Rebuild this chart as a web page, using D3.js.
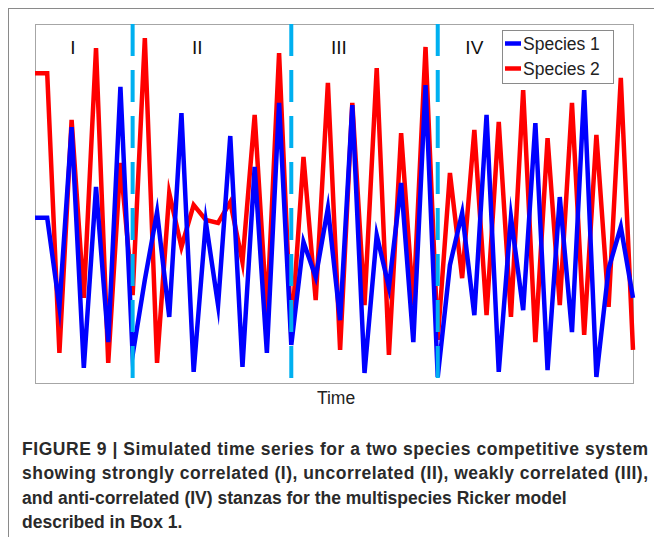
<!DOCTYPE html>
<html>
<head>
<meta charset="utf-8">
<script src="https://cdn.jsdelivr.net/npm/d3@7"></script>
<style>
  body { margin: 0; background: #fff; }
  svg { display: block; }
</style>
</head>
<body>
<div id="chart"></div>
<script>
'use strict';

// time steps 1..50
var steps = d3.range(1, 51);

// abundance (arbitrary units)
var species1 = [46.0, 46.0, 21.2, 71.3, 4.2, 54.6, 11.4, 82.5, 7.8, 28.7,
                47.6, 18.4, 75.2, 3.1, 44.8, 21.7, 68.8, 4.5, 60.2, 8.4,
                78.0, 10.6, 39.3, 29.5, 48.7, 17.5, 77.4, 2.8, 41.2, 26.7,
                55.7, 11.4, 83.0, 1.7, 32.9, 47.4, 18.9, 74.7, 3.1, 46.2,
                20.3, 72.4, 3.6, 51.8, 14.2, 81.6, 1.7, 31.8, 43.5, 23.7];

var species2 = [86.3, 86.3, 8.4, 73.3, 23.7, 93.3, 5.6, 61.3, 24.5, 96.1,
                5.6, 52.9, 37.9, 49.6, 45.4, 44.6, 50.4, 33.7, 74.7, 19.2,
                91.9, 13.4, 63.0, 23.1, 83.6, 9.2, 78.0, 21.7, 87.7, 7.8,
                69.6, 21.7, 93.6, 12.0, 58.5, 29.2, 70.5, 18.9, 72.7, 18.4,
                81.6, 11.4, 68.2, 21.7, 78.0, 13.4, 69.1, 21.2, 85.0, 9.2];

// stanza breaks (time step) and stanza labels
var stanzaBreaks = [9, 22, 34];
var stanzaLabels = ['I', 'II', 'III', 'IV'];
var stanzaLabelAt = [4.1, 14.3, 25.9, 37.0];

var seriesNames = ['Species 1', 'Species 2'];

var captionLines = [
    'FIGURE 9 | Simulated time series for a two species competitive system',
    'showing strongly correlated (I), uncorrelated (II), weakly correlated (III),',
    'and anti-correlated (IV) stanzas for the multispecies Ricker model',
    'described in Box 1.'
];
// full-width lines are justified to the text block
var captionWidths = [626, 626, null, null];


var myChart = {};

myChart.largura = 654;
myChart.altura = 537;
myChart.box = { left: 35, top: 24, right: 633, bottom: 383 };

myChart.run = function()
{
    var box = myChart.box;
    var svg = d3.select('#chart').append('svg')
        .attr('width', myChart.largura)
        .attr('height', myChart.altura);

    // outer figure frame
    svg.append('rect')
        .attr('x', 8.5).attr('y', 8.5)
        .attr('width', 800).attr('height', 800)
        .attr('fill', 'none')
        .attr('stroke', '#8a8a8a')
        .attr('stroke-width', 1);

    var xScale = d3.scaleLinear().domain([1, 50]).range([box.left, box.right]);
    var yScale = d3.scaleLinear().domain([0, 100]).range([box.bottom, box.top]);

    // plot frame
    svg.append('rect')
        .attr('x', box.left + 0.5).attr('y', box.top + 0.5)
        .attr('width', box.right - box.left)
        .attr('height', box.bottom - box.top)
        .attr('fill', 'none')
        .attr('stroke', '#a6a6a6')
        .attr('stroke-width', 1);

    var line = d3.line()
        .x(function(d, i){ return xScale(steps[i]); })
        .y(function(d){ return yScale(d); });

    svg.append('path')
        .datum(species2)
        .attr('d', line)
        .attr('fill', 'none')
        .attr('stroke', '#ff0000')
        .attr('stroke-width', 4.5)
        .attr('stroke-linejoin', 'miter')
        .attr('stroke-miterlimit', 10);

    svg.append('path')
        .datum(species1)
        .attr('d', line)
        .attr('fill', 'none')
        .attr('stroke', '#0000ff')
        .attr('stroke-width', 4.5)
        .attr('stroke-linejoin', 'miter')
        .attr('stroke-miterlimit', 10);

    // dashed stanza separators
    svg.selectAll('line.brk')
        .data(stanzaBreaks)
        .enter()
        .append('line')
        .attr('class', 'brk')
        .attr('x1', function(d){ return xScale(d); })
        .attr('x2', function(d){ return xScale(d); })
        .attr('y1', box.top)
        .attr('y2', box.bottom - 2)
        .attr('stroke', '#00b0f0')
        .attr('stroke-width', 4)
        .attr('stroke-dasharray', '32,14');

    svg.selectAll('text.stanza')
        .data(stanzaLabels)
        .enter()
        .append('text')
        .attr('class', 'stanza')
        .attr('x', function(d, i){ return xScale(stanzaLabelAt[i]); })
        .attr('y', 54)
        .attr('text-anchor', 'middle')
        .attr('font-family', 'Liberation Sans, Arial, sans-serif')
        .attr('font-size', 19)
        .attr('fill', '#111')
        .text(function(d){ return d; });

    // legend
    var leg = svg.append('g').attr('transform', 'translate(502,30)');
    leg.append('rect')
        .attr('x', 0.5).attr('y', 0.5)
        .attr('width', 111).attr('height', 53)
        .attr('fill', '#fff')
        .attr('stroke', '#8a8a8a');
    var cores = ['#0000ff', '#ff0000'];
    seriesNames.forEach(function(nome, i) {
        var yy = 13.5 + i * 25;
        leg.append('line')
            .attr('x1', 3).attr('x2', 19)
            .attr('y1', yy).attr('y2', yy)
            .attr('stroke', cores[i])
            .attr('stroke-width', 4.5);
        leg.append('text')
            .attr('x', 21)
            .attr('y', yy + 6)
            .attr('font-family', 'Liberation Sans, Arial, sans-serif')
            .attr('font-size', 17.5)
            .attr('fill', '#222')
            .text(nome);
    });

    // x axis title
    svg.append('text')
        .attr('x', (box.left + box.right) / 2 + 2)
        .attr('y', 404)
        .attr('text-anchor', 'middle')
        .attr('font-family', 'Liberation Sans, Arial, sans-serif')
        .attr('font-size', 17.5)
        .attr('fill', '#222')
        .text('Time');

    // caption
    var cap = svg.selectAll('text.cap')
        .data(captionLines)
        .enter()
        .append('text')
        .attr('class', 'cap')
        .attr('x', 22)
        .attr('y', function(d, i){ return 455 + i * 24.3; })
        .attr('font-family', 'Liberation Sans, Arial, sans-serif')
        .attr('font-weight', 'bold')
        .attr('font-size', 17.5)
        .attr('fill', '#2a2a2a')
        .text(function(d){ return d; });

    cap.filter(function(d, i){ return captionWidths[i]; })
        .attr('textLength', function(d){ return captionWidths[captionLines.indexOf(d)]; })
        .attr('lengthAdjust', 'spacing');
};

window.onload = function() {
    myChart.run();
};
</script>
</body>
</html>
